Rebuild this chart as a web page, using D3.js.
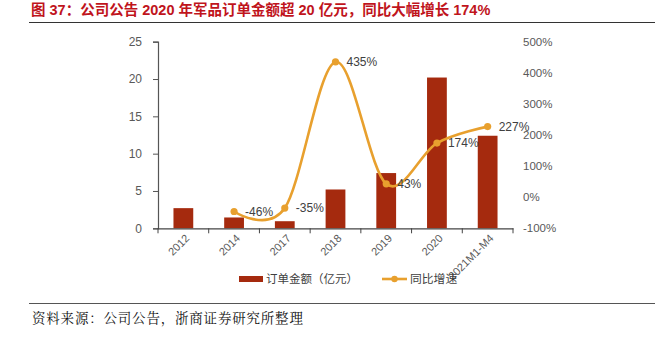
<!DOCTYPE html>
<html>
<head>
<meta charset="utf-8">
<script src="https://cdn.jsdelivr.net/npm/d3@7"></script>
<style>
  html, body { margin: 0; padding: 0; background: #fff; }
  svg { display: block; }
</style>
</head>
<body>
<svg id="chart" width="672" height="339"></svg>
<script>
const categories = ["2012", "2014", "2017", "2018", "2019", "2020", "2021M1-M4"];
const orderAmounts = [2.7, 1.45, 0.95, 5.2, 7.4, 20.2, 12.4];
const growthCats = ["2014", "2017", "2018", "2019", "2020", "2021M1-M4"];
const growthRates = [-46, -35, 435, 43, 174, 227];
const leftTicks = [0, 5, 10, 15, 20, 25];
const rightTicks = [-100, 0, 100, 200, 300, 400, 500];
const titleText = "图 37：公司公告 2020 年军品订单金额超 20 亿元，同比大幅增长 174%";
const sourceText = "资料来源：公司公告，浙商证券研究所整理";
const legendBar = "订单金额（亿元）";
const legendLine = "同比增速";

const svg = d3.select("#chart");
const barColor = "#A52A0E";
const lineColor = "#E8A02E";
const axisText = "#595959";
const fontCJK = "'Liberation Sans', Arial, 'Noto Sans CJK SC', sans-serif";

// Title
svg.append("text")
  .attr("x", 31).attr("y", 14.5)
  .attr("font-family", fontCJK)
  .attr("font-size", 14.5).attr("font-weight", "bold")
  .attr("fill", "#C0141C")
  .text(titleText);
svg.append("line").attr("x1", 29).attr("x2", 655).attr("y1", 22.5).attr("y2", 22.5)
  .attr("stroke", "#333").attr("stroke-width", 1.2);

// Bottom rule + source
svg.append("line").attr("x1", 29).attr("x2", 655).attr("y1", 303.5).attr("y2", 303.5)
  .attr("stroke", "#555").attr("stroke-width", 1.2);
svg.append("text")
  .attr("x", 32).attr("y", 323)
  .attr("font-family", "'Noto Serif CJK SC', 'Noto Sans CJK SC', serif")
  .attr("font-size", 13.5).attr("fill", "#111")
  .attr("letter-spacing", 0.8)
  .text(sourceText);

// Scales
const x = d3.scaleBand().domain(categories).range([158, 513]).paddingInner(0).paddingOuter(0);
const yL = d3.scaleLinear().domain([0, 25]).range([228.3, 41.7]);
const yR = d3.scaleLinear().domain([-100, 500]).range([228.3, 41.7]);
const barW = x.bandwidth() * 0.39;

// Bars
svg.append("g").selectAll("rect").data(categories).join("rect")
  .attr("x", (d) => x(d) + x.bandwidth() / 2 - barW / 2)
  .attr("width", barW)
  .attr("y", (d, i) => yL(orderAmounts[i]))
  .attr("height", (d, i) => yL(0) - yL(orderAmounts[i]))
  .attr("fill", barColor);

// Left axis
const gL = svg.append("g").attr("transform", "translate(158,0)")
  .call(d3.axisLeft(yL).tickValues(leftTicks).tickSize(5).tickPadding(11).tickFormat(d3.format("d")));
gL.select(".domain").attr("stroke", "#555").attr("stroke-width", 1.2);
gL.selectAll(".tick line").attr("stroke", "#555");
gL.selectAll("text").attr("font-family", fontCJK).attr("font-size", 12).attr("fill", axisText);

// Right axis (labels only)
const gR = svg.append("g").attr("transform", "translate(513,0)")
  .call(d3.axisRight(yR).tickValues(rightTicks).tickSize(0).tickPadding(10).tickFormat((d) => d + "%"));
gR.select(".domain").remove();
gR.selectAll("text").attr("font-family", fontCJK).attr("font-size", 11.5).attr("fill", axisText);

// X axis
const gX = svg.append("g").attr("transform", "translate(0,228.3)")
  .call(d3.axisBottom(x).tickSize(0).tickPadding(0));
gX.select(".domain").attr("stroke", "#444").attr("stroke-width", 1.2);
gX.selectAll(".tick text")
  .attr("font-family", fontCJK).attr("font-size", 11).attr("fill", axisText)
  .attr("text-anchor", "end")
  .attr("transform", "translate(4,8) rotate(-45)")
  .attr("dy", "0.35em");
// boundary ticks
const bounds = categories.map((c) => x(c)).concat([x.range()[1]]);
gX.selectAll(".bt").data(bounds).join("line").attr("class", "bt")
  .attr("x1", (d) => d).attr("x2", (d) => d).attr("y1", 0).attr("y2", 5)
  .attr("stroke", "#444").attr("stroke-width", 1);

// Growth line
const pts = growthCats.map((c, i) => [x(c) + x.bandwidth() / 2, yR(growthRates[i])]);
svg.append("path")
  .attr("d", d3.line().curve(d3.curveCatmullRom.alpha(0))(pts))
  .attr("fill", "none").attr("stroke", lineColor).attr("stroke-width", 2.6);
svg.append("g").selectAll("circle").data(pts).join("circle")
  .attr("cx", (d) => d[0]).attr("cy", (d) => d[1]).attr("r", 3.6)
  .attr("fill", lineColor);
svg.append("g").selectAll("text").data(pts).join("text")
  .attr("x", (d) => d[0] + 11).attr("y", (d) => d[1])
  .attr("dy", "0.36em")
  .attr("font-family", fontCJK).attr("font-size", 12).attr("fill", "#404040")
  .text((d, i) => growthRates[i] + "%");

// Legend
const lg = svg.append("g");
lg.append("rect").attr("x", 239).attr("y", 276).attr("width", 24).attr("height", 6).attr("fill", barColor);
lg.append("text").attr("x", 266).attr("y", 279).attr("dy", "0.36em")
  .attr("font-family", "'Noto Sans CJK SC', sans-serif").attr("font-size", 11.5).attr("fill", "#404040")
  .text(legendBar);
lg.append("line").attr("x1", 382).attr("x2", 407).attr("y1", 279).attr("y2", 279)
  .attr("stroke", lineColor).attr("stroke-width", 2.6);
lg.append("circle").attr("cx", 394.5).attr("cy", 279).attr("r", 3.2).attr("fill", lineColor);
lg.append("text").attr("x", 410).attr("y", 279).attr("dy", "0.36em")
  .attr("font-family", "'Noto Sans CJK SC', sans-serif").attr("font-size", 11.8).attr("fill", "#404040")
  .text(legendLine);
</script>
</body>
</html>
